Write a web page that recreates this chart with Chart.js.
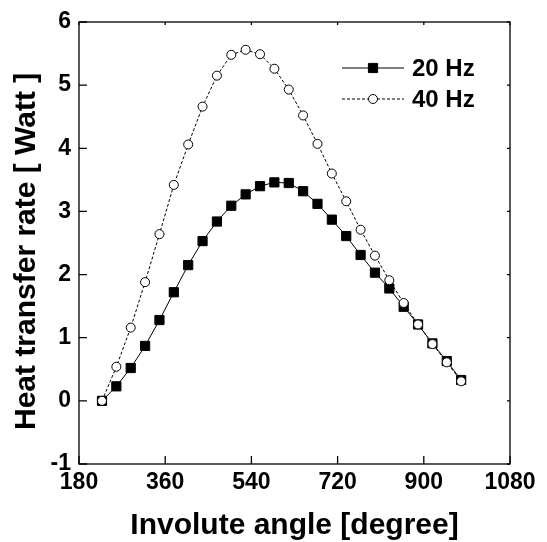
<!DOCTYPE html>
<html>
<head>
<meta charset="utf-8">
<script src="https://cdn.jsdelivr.net/npm/chart.js@4.4.1/dist/chart.umd.min.js"></script>
<style>
    html, body { margin: 0; padding: 0; background: #fff; }
    #wrap { width: 547px; height: 542px; }
</style>
</head>
<body>
<div id="wrap"><canvas id="heatChart" width="547" height="542"></canvas></div>
<script>
// Involute angle [degree] for each measured point
const angles = [228, 258, 288, 318, 348, 378, 408, 438, 468, 498, 528, 558, 588,
                618, 648, 678, 708, 738, 768, 798, 828, 858, 888, 918, 948, 978];

// Heat transfer rate [Watt]
const rate20Hz = [0, 0.23, 0.52, 0.87, 1.28, 1.72, 2.15, 2.53, 2.84, 3.09, 3.27, 3.40, 3.46,
                  3.45, 3.32, 3.12, 2.87, 2.61, 2.31, 2.03, 1.78, 1.49, 1.21, 0.91, 0.63, 0.33];
const rate40Hz = [0, 0.54, 1.16, 1.88, 2.64, 3.42, 4.06, 4.66, 5.15, 5.48, 5.56, 5.49, 5.26,
                  4.93, 4.52, 4.07, 3.60, 3.16, 2.71, 2.30, 1.91, 1.55, 1.21, 0.90, 0.61, 0.31];

const seriesLabels = ['20 Hz', '40 Hz'];
const xTicks = [180, 360, 540, 720, 900, 1080];
const yTicks = [-1, 0, 1, 2, 3, 4, 5, 6];

const FONT = '"Liberation Sans", Arial, sans-serif';

const toPoints = (vals) => vals.map((v, i) => ({ x: angles[i], y: v }));

// Box around the plot with short inward ticks on all four sides
const frameTicks = {
    id: 'frameTicks',
    beforeDatasetsDraw(chart) {
        const { ctx, chartArea: a, scales: { x, y } } = chart;
        ctx.save();
        ctx.strokeStyle = '#000';
        ctx.lineWidth = 1.3;
        ctx.strokeRect(a.left, a.top, a.right - a.left, a.bottom - a.top);
        ctx.beginPath();
        x.ticks.forEach((t, i) => {
            const px = x.getPixelForTick(i);
            ctx.moveTo(px, a.bottom); ctx.lineTo(px, a.bottom - 8);
            ctx.moveTo(px, a.top); ctx.lineTo(px, a.top + 3);
        });
        y.ticks.forEach((t, i) => {
            const py = y.getPixelForTick(i);
            ctx.moveTo(a.left, py); ctx.lineTo(a.left + 8, py);
            ctx.moveTo(a.right, py); ctx.lineTo(a.right - 3, py);
        });
        ctx.stroke();
        ctx.restore();
    }
};

// Legend inside the plot: short line with the marker in the middle
const inlineLegend = {
    id: 'inlineLegend',
    afterDatasetsDraw(chart) {
        const { ctx, chartArea: a } = chart;
        ctx.save();
        chart.data.datasets.forEach((ds, i) => {
            const yy = a.top + 46 + i * 31;
            const x0 = a.right - 168, x1 = a.right - 106;
            ctx.strokeStyle = ds.borderColor;
            ctx.lineWidth = ds.borderWidth;
            ctx.setLineDash(ds.borderDash || []);
            ctx.beginPath();
            ctx.moveTo(x0, yy); ctx.lineTo(x1, yy);
            ctx.stroke();
            ctx.setLineDash([]);
            ctx.fillStyle = ds.pointBackgroundColor;
            ctx.strokeStyle = ds.pointBorderColor;
            ctx.lineWidth = ds.pointBorderWidth;
            Chart.helpers.drawPoint(ctx, {
                pointStyle: ds.pointStyle,
                radius: ds.pointRadius,
                rotation: 0,
                borderWidth: ds.pointBorderWidth
            }, (x0 + x1) / 2, yy);
            ctx.fillStyle = '#000';
            ctx.font = 'bold 24px ' + FONT;
            ctx.textBaseline = 'middle';
            ctx.fillText(ds.label, a.right - 98, yy + 1);
        });
        ctx.restore();
    }
};

const chart = new Chart(document.getElementById('heatChart'), {
    type: 'line',
    data: {
        datasets: [{
            label: seriesLabels[0],
            data: toPoints(rate20Hz),
            borderColor: '#000',
            borderWidth: 1,
            pointStyle: 'rect',
            pointRadius: 6.5,
            pointBackgroundColor: '#000',
            pointBorderColor: '#000',
            pointBorderWidth: 1,
            tension: 0,
            order: 2
        }, {
            label: seriesLabels[1],
            data: toPoints(rate40Hz),
            borderColor: '#000',
            borderWidth: 1,
            borderDash: [3, 2],
            pointStyle: 'circle',
            pointRadius: 4.5,
            pointBackgroundColor: '#fff',
            pointBorderColor: '#000',
            pointBorderWidth: 1,
            tension: 0,
            order: 1
        }]
    },
    options: {
        responsive: false,
        animation: false,
        events: [],
        layout: { padding: { top: 22, right: 37, left: 0, bottom: 0 } },
        plugins: {
            legend: { display: false },
            tooltip: { enabled: false }
        },
        scales: {
            x: {
                type: 'linear',
                min: xTicks[0],
                max: xTicks[xTicks.length - 1],
                afterBuildTicks: (scale) => { scale.ticks = xTicks.map(v => ({ value: v })); },
                afterFit: (scale) => { scale.height = 78; },
                grid: { display: false, drawTicks: false },
                border: { display: false },
                ticks: {
                    color: '#000',
                    padding: 5,
                    maxRotation: 0,
                    callback: (v) => String(v),
                    font: { family: FONT, size: 23, weight: 'bold' }
                },
                title: {
                    display: true,
                    text: 'Involute angle [degree]',
                    color: '#000',
                    padding: { top: 0, bottom: 1 },
                    font: { family: FONT, size: 30, weight: 'bold', lineHeight: 1 }
                }
            },
            y: {
                min: yTicks[0],
                max: yTicks[yTicks.length - 1],
                afterBuildTicks: (scale) => { scale.ticks = yTicks.map(v => ({ value: v })); },
                afterFit: (scale) => { scale.width = 79; },
                grid: { display: false, drawTicks: false },
                border: { display: false },
                ticks: {
                    color: '#000',
                    padding: 8,
                    callback: (v) => String(v),
                    font: { family: FONT, size: 23, weight: 'bold' }
                },
                title: {
                    display: true,
                    // two trailing spaces nudge the rotated title down a little
                    text: 'Heat transfer rate [ Watt ]  ',
                    color: '#000',
                    padding: { top: 12, bottom: 0 },
                    font: { family: FONT, size: 30, weight: 'bold', lineHeight: 1 }
                }
            }
        }
    },
    plugins: [frameTicks, inlineLegend]
});
</script>
</body>
</html>
